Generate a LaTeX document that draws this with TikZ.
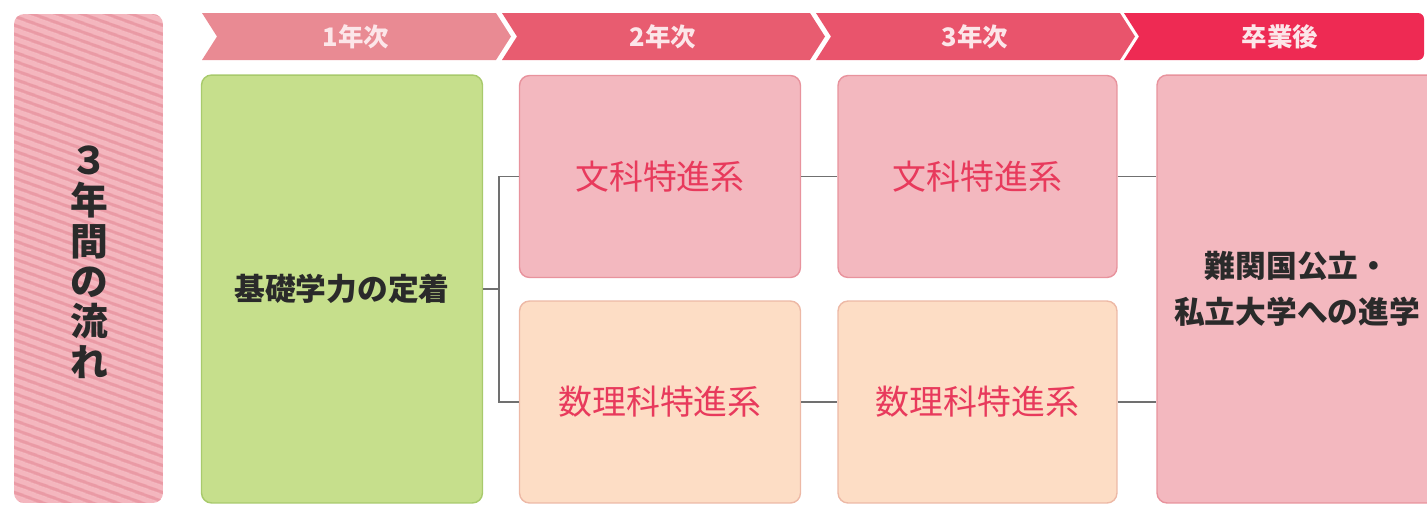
\documentclass[tikz,border=0pt]{standalone}
\usepackage{fontspec}
\newfontfamily\jp{Noto Sans CJK JP}
\usetikzlibrary{patterns.meta}

\definecolor{hdrA}{HTML}{E98A93}
\definecolor{hdrB}{HTML}{E85C70}
\definecolor{hdrC}{HTML}{E9546C}
\definecolor{hdrD}{HTML}{EE2A53}
\definecolor{hdrtext}{HTML}{FCE6E9}
\definecolor{stripebg}{HTML}{F4B6BE}
\definecolor{stripefg}{HTML}{EA9AA5}
\definecolor{greenfill}{HTML}{C6DF8C}
\definecolor{greenline}{HTML}{A8CA6C}
\definecolor{pinkfill}{HTML}{F3B8BF}
\definecolor{pinkline}{HTML}{E8939D}
\definecolor{peachfill}{HTML}{FDDDC5}
\definecolor{peachline}{HTML}{EDB9A6}
\definecolor{coursered}{HTML}{E83A5C}
\definecolor{darktext}{HTML}{2A2A2A}
\definecolor{linkgray}{HTML}{707070}

\begin{document}
\begin{tikzpicture}[x=0.02cm, y=-0.02cm,
  head/.style={text=hdrtext, font=\jp\bfseries\fontsize{14.5}{14.5}\selectfont},
  box/.style={rounded corners=0.2cm, line width=0.8pt, inner sep=0pt, minimum width=5.62cm},
  stage/.style={box, draw=greenline, fill=greenfill, minimum height=8.56cm, text=darktext,
    font=\jp\bfseries\fontsize{17.5}{17.5}\selectfont},
  course/.style={box, minimum height=4.04cm, text=coursered, font=\jp\fontsize{19.3}{19.3}\selectfont},
  bunka/.style={course, draw=pinkline, fill=pinkfill},
  rika/.style={course, draw=peachline, fill=peachfill},
  goalbox/.style={box, draw=pinkline, fill=pinkfill, minimum width=5.6cm, minimum height=8.56cm,
    text=darktext, align=center, font=\jp\bfseries\fontsize{17.5}{26}\selectfont},
  link/.style={draw=linkgray, line width=0.7pt}]
  \useasboundingbox (0,0) rectangle (1427,505);

  \node[rounded corners=0.2cm, minimum width=2.98cm, minimum height=9.78cm,
    preaction={fill=stripebg},
    pattern={Lines[angle=-20, distance=0.18cm, line width=0.07cm]}, pattern color=stripefg]
    (flow) at (88.5,258.5) {};
  \node[align=center, text=darktext, font=\jp\bfseries\fontsize{21.5}{23}\selectfont]
    (flowtext) at (89,262) {３\\年\\間\\の\\流\\れ};

  \foreach \l/\r/\c/\t [count=\i] in {202/496/hdrA/1年次, 502/810/hdrB/2年次, 816/1120/hdrC/3年次} {
    \fill[\c] (\l,13) -- (\r,13) -- (\r+15,36.5) -- (\r,60) -- (\l,60) -- (\l+15,36.5) -- cycle;
    \node[head] (year\i) at ({(\l+\r)/2+7},36.5) {\t};
  }
  \fill[hdrD] (1124,13) [rounded corners=0.12cm] -- (1424,13) -- (1424,60) [sharp corners] -- (1124,60)
    -- (1139,36.5) -- cycle;
  \node[head] (after) at (1280,36.5) {卒業後};

  \node[stage] (basic) at (342,289) {基礎学力の定着};
  \node[bunka] (bun2) at (660,176.5) {文科特進系};
  \node[rika]  (ri2)  at (660,402) {数理科特進系};
  \node[bunka, minimum width=5.58cm] (bun3) at (977.5,176.5) {文科特進系};
  \node[rika, minimum width=5.58cm]  (ri3)  at (977.5,402) {数理科特進系};
  \node[goalbox] (goal) at (1297,289) {難関国公立・\\私立大学への進学};

  \coordinate (fork) at (499,289);
  \draw[link] (basic.east) -- (fork);
  \draw[link] (bun2.west) -| (fork) |- (ri2.west);
  \draw[link] (bun2) -- (bun3);
  \draw[link] (ri2) -- (ri3);
  \draw[link] (bun3.east) -- (bun3.east -| goal.west);
  \draw[link] (ri3.east) -- (ri3.east -| goal.west);
\end{tikzpicture}
\end{document}
